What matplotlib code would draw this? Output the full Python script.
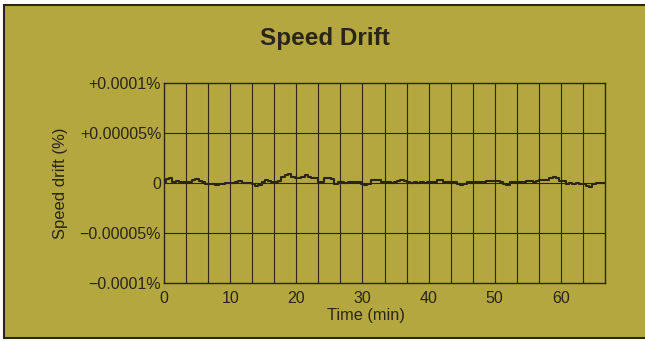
import numpy as np
import matplotlib.pyplot as plt
from matplotlib.patches import Rectangle

# time in minutes, drift in units of 1e-6 %
time_min = np.arange(0, 67, 0.5)
drift_e6 = [1, 4, 5, 1, 2, 1.5, 1.5, 1, 1.5, 3,
            4, 2, 1, -0.5, -1, -0.5, -1.5, -0.5, -1, 0,
            0.5, 0, 1, 2, 0.5, 0, 0.5, -1, -2.5, -1.5,
            1.5, 3, 2.5, 1.5, 1.5, 2, 6.5, 8, 9, 6.5,
            5.5, 5.5, 6, 8, 6, 5, 5, 1.5, 1.5, 5,
            5, 4.5, -1, 1, 1.5, 0.5, 1.5, 1, 1.5, 1,
            -1, -2, -0.5, 3, 3.5, 3, 1.5, 1, 1, 0.5,
            1, 2, 3, 2, 1, 0.5, 1, 0, 1, 0.5,
            1, 1, 1, 3, 3, 1.5, 1.5, 1, 1.5, -1,
            -1.5, -0.5, 1, 1, 1, 1, 1.5, 1, 2, 2.5,
            2, 2.5, 1, -1, -1.5, 1, 1, 1.5, 1, 1,
            2.5, 2, 1.5, 2, 3, 3.5, 3, 5.5, 6, 5.5,
            2.5, 2, -0.5, 0, -0.5, 0, -0.5, -1, -3, -3.5,
            -1, 0, 0.5, 0]
drift = np.array(drift_e6) * 1e-6

y_ticks = [-1e-4, -5e-5, 0, 5e-5, 1e-4]
y_labels = ['\u22120.0001%', '\u22120.00005%', '0', '+0.00005%', '+0.0001%']
x_ticks = [0, 10, 20, 30, 40, 50, 60]

bg = '#b4a740'
ink = '#2a2519'

plt.rcParams['font.family'] = ['Liberation Sans', 'DejaVu Sans']

fig = plt.figure(figsize=(6.45, 3.41), dpi=100)
fig.patch.set_facecolor('white')

# olive panel with dark border
panel = Rectangle((4 / 645, 1 - 338 / 341), 1, (338 - 5) / 341,
                  transform=fig.transFigure, facecolor=bg,
                  edgecolor=ink, linewidth=1.5, zorder=-5)
fig.add_artist(panel)

ax = fig.add_axes([164 / 645, 1 - 283 / 341, (605 - 164) / 645, (283 - 83) / 341])
ax.set_facecolor('none')
ax.set_zorder(2)

# vertical grid every 200 s
for gx in np.arange(1, 20) * 10 / 3:
    ax.axvline(gx, color=ink, lw=0.8, zorder=1)
for gy in [-5e-5, 0, 5e-5]:
    ax.axhline(gy, color=ink, lw=0.8, zorder=1)

ax.plot(time_min, drift, color=ink, lw=1.5, drawstyle='steps-mid', zorder=3)

ax.set_xlim(0, 200 / 3)
ax.set_ylim(-1e-4, 1e-4)
ax.set_xticks(x_ticks)
ax.set_yticks(y_ticks)
ax.set_yticklabels(y_labels)
ax.tick_params(length=0, labelsize=11.5, colors=ink)
ax.tick_params(axis='y', pad=2)
ax.tick_params(axis='x', pad=6)
for s in ax.spines.values():
    s.set_color(ink)
    s.set_linewidth(1.0)

ax.set_xlabel('Time (min)', fontsize=11.8, color=ink)
ax.xaxis.set_label_coords(0.458, -0.125)
ax.set_ylabel('Speed drift (%)', fontsize=12, color=ink)
ax.yaxis.set_label_coords(-0.218, 0.5)

fig.text(325 / 645, 1 - 38 / 341, 'Speed Drift', fontsize=17.5, fontweight='bold',
         color=ink, ha='center', va='center', zorder=3)

fig.savefig('out.png', dpi=100, facecolor=fig.get_facecolor())
